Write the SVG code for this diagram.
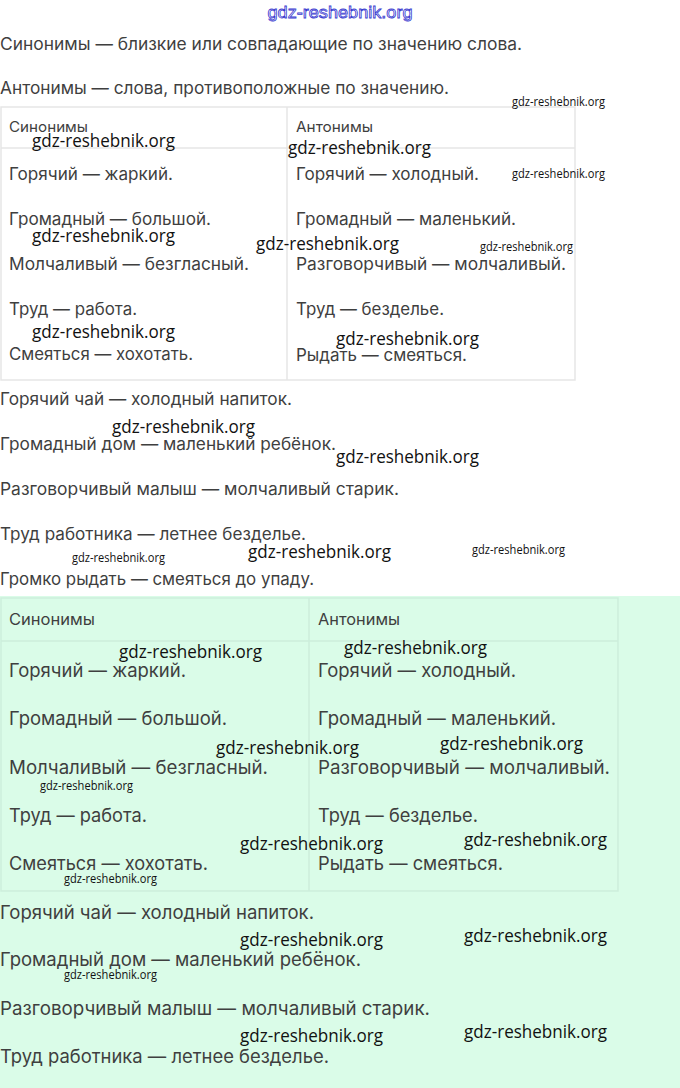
<svg xmlns="http://www.w3.org/2000/svg" width="680" height="1088" viewBox="0 0 680 1088">
<style>
.t{font-family:Inter,"Liberation Sans",Arial,sans-serif;font-size:17px;fill:#3f3f3f}
.g{font-family:Inter,"Liberation Sans",Arial,sans-serif;font-size:18.5px;fill:#3f3f3f}
.h{font-family:Inter,"Liberation Sans",Arial,sans-serif;font-size:14.5px;fill:#3f3f3f}
.hg{font-family:Inter,"Liberation Sans",Arial,sans-serif;font-size:15.5px;fill:#3f3f3f}
.wm{font-family:"Open Sans","Liberation Sans",Arial,sans-serif;font-size:19px;fill:#111}
.ws{font-family:"Open Sans","Liberation Sans",Arial,sans-serif;font-size:12.5px;fill:#111}
.tb{fill:#ffffff;stroke:#e6e6e6;stroke-width:1.5}
.tl{stroke:#e6e6e6;stroke-width:1.5}
.gb{fill:#dafce8;stroke:#cdeedb;stroke-width:1.5}
.gl{stroke:#cdeedb;stroke-width:1.5}
</style>
<rect x="0" y="0" width="680" height="1088" fill="#ffffff"/>
<rect x="0" y="596" width="680" height="492" fill="#dafce8"/>

<g id="header">
<text x="340" y="18" text-anchor="middle" font-family="'Liberation Sans',Arial,sans-serif" font-size="17" fill="#ffffff" stroke="#3a3ad0" stroke-width="0.8" textLength="145" lengthAdjust="spacingAndGlyphs">gdz-reshebnik.org</text>
<text class="t" x="0" y="50" textLength="522" lengthAdjust="spacingAndGlyphs">Синонимы — близкие или совпадающие по значению слова.</text>
<text class="t" x="0" y="94" textLength="449" lengthAdjust="spacingAndGlyphs">Антонимы — слова, противоположные по значению.</text>
</g>

<g id="table1">
<rect class="tb" x="1" y="107" width="574" height="273"/>
<line class="tl" x1="1" y1="148" x2="575" y2="148"/>
<line class="tl" x1="287" y1="107" x2="287" y2="380"/>
<text class="h" x="9" y="132" textLength="79" lengthAdjust="spacingAndGlyphs">Синонимы</text>
<text class="h" x="296" y="132" textLength="77" lengthAdjust="spacingAndGlyphs">Антонимы</text>
<text class="t" x="9" y="180" textLength="164" lengthAdjust="spacingAndGlyphs">Горячий — жаркий.</text>
<text class="t" x="296" y="180" textLength="183" lengthAdjust="spacingAndGlyphs">Горячий — холодный.</text>
<text class="t" x="9" y="225" textLength="202" lengthAdjust="spacingAndGlyphs">Громадный — большой.</text>
<text class="t" x="296" y="225" textLength="220" lengthAdjust="spacingAndGlyphs">Громадный — маленький.</text>
<text class="t" x="9" y="270" textLength="240" lengthAdjust="spacingAndGlyphs">Молчаливый — безгласный.</text>
<text class="t" x="296" y="270" textLength="270" lengthAdjust="spacingAndGlyphs">Разговорчивый — молчаливый.</text>
<text class="t" x="9" y="315" textLength="128" lengthAdjust="spacingAndGlyphs">Труд — работа.</text>
<text class="t" x="296" y="315" textLength="148" lengthAdjust="spacingAndGlyphs">Труд — безделье.</text>
<text class="t" x="9" y="360" textLength="184" lengthAdjust="spacingAndGlyphs">Смеяться — хохотать.</text>
<text class="t" x="296" y="361" textLength="171" lengthAdjust="spacingAndGlyphs">Рыдать — смеяться.</text>
</g>

<g id="examples1">
<text class="t" x="0" y="405" textLength="292" lengthAdjust="spacingAndGlyphs">Горячий чай — холодный напиток.</text>
<text class="t" x="0" y="450" textLength="336" lengthAdjust="spacingAndGlyphs">Громадный дом — маленький ребёнок.</text>
<text class="t" x="0" y="495" textLength="399" lengthAdjust="spacingAndGlyphs">Разговорчивый малыш — молчаливый старик.</text>
<text class="t" x="0" y="540" textLength="306" lengthAdjust="spacingAndGlyphs">Труд работника — летнее безделье.</text>
<text class="t" x="0" y="585" textLength="314" lengthAdjust="spacingAndGlyphs">Громко рыдать — смеяться до упаду.</text>
</g>

<g id="table2">
<rect class="gb" x="1" y="598" width="617" height="293"/>
<line class="gl" x1="1" y1="641" x2="618" y2="641"/>
<line class="gl" x1="309" y1="598" x2="309" y2="891"/>
<text class="hg" x="9" y="625" textLength="86" lengthAdjust="spacingAndGlyphs">Синонимы</text>
<text class="hg" x="318" y="625" textLength="82" lengthAdjust="spacingAndGlyphs">Антонимы</text>
<text class="g" x="9" y="677" textLength="177" lengthAdjust="spacingAndGlyphs">Горячий — жаркий.</text>
<text class="g" x="318" y="677" textLength="198" lengthAdjust="spacingAndGlyphs">Горячий — холодный.</text>
<text class="g" x="9" y="725" textLength="218" lengthAdjust="spacingAndGlyphs">Громадный — большой.</text>
<text class="g" x="318" y="725" textLength="238" lengthAdjust="spacingAndGlyphs">Громадный — маленький.</text>
<text class="g" x="9" y="774" textLength="259" lengthAdjust="spacingAndGlyphs">Молчаливый — безгласный.</text>
<text class="g" x="318" y="774" textLength="292" lengthAdjust="spacingAndGlyphs">Разговорчивый — молчаливый.</text>
<text class="g" x="9" y="822" textLength="138" lengthAdjust="spacingAndGlyphs">Труд — работа.</text>
<text class="g" x="318" y="822" textLength="160" lengthAdjust="spacingAndGlyphs">Труд — безделье.</text>
<text class="g" x="9" y="870" textLength="199" lengthAdjust="spacingAndGlyphs">Смеяться — хохотать.</text>
<text class="g" x="318" y="870" textLength="185" lengthAdjust="spacingAndGlyphs">Рыдать — смеяться.</text>
</g>

<g id="examples2">
<text class="g" x="0" y="919" textLength="314" lengthAdjust="spacingAndGlyphs">Горячий чай — холодный напиток.</text>
<text class="g" x="0" y="966" textLength="361" lengthAdjust="spacingAndGlyphs">Громадный дом — маленький ребёнок.</text>
<text class="g" x="0" y="1015" textLength="430" lengthAdjust="spacingAndGlyphs">Разговорчивый малыш — молчаливый старик.</text>
<text class="g" x="0" y="1063" textLength="329" lengthAdjust="spacingAndGlyphs">Труд работника — летнее безделье.</text>
</g>

<g id="watermarks">
<text class="ws" x="512" y="106" textLength="93" lengthAdjust="spacingAndGlyphs">gdz-reshebnik.org</text>
<text class="wm" x="32" y="147" textLength="143" lengthAdjust="spacingAndGlyphs">gdz-reshebnik.org</text>
<text class="wm" x="288" y="154" textLength="143" lengthAdjust="spacingAndGlyphs">gdz-reshebnik.org</text>
<text class="ws" x="512" y="178" textLength="93" lengthAdjust="spacingAndGlyphs">gdz-reshebnik.org</text>
<text class="wm" x="32" y="242" textLength="143" lengthAdjust="spacingAndGlyphs">gdz-reshebnik.org</text>
<text class="wm" x="256" y="250" textLength="143" lengthAdjust="spacingAndGlyphs">gdz-reshebnik.org</text>
<text class="ws" x="480" y="251" textLength="93" lengthAdjust="spacingAndGlyphs">gdz-reshebnik.org</text>
<text class="wm" x="32" y="338" textLength="143" lengthAdjust="spacingAndGlyphs">gdz-reshebnik.org</text>
<text class="wm" x="336" y="345" textLength="143" lengthAdjust="spacingAndGlyphs">gdz-reshebnik.org</text>
<text class="wm" x="112" y="433" textLength="143" lengthAdjust="spacingAndGlyphs">gdz-reshebnik.org</text>
<text class="wm" x="336" y="463" textLength="143" lengthAdjust="spacingAndGlyphs">gdz-reshebnik.org</text>
<text class="ws" x="72" y="562" textLength="93" lengthAdjust="spacingAndGlyphs">gdz-reshebnik.org</text>
<text class="wm" x="248" y="558" textLength="143" lengthAdjust="spacingAndGlyphs">gdz-reshebnik.org</text>
<text class="ws" x="472" y="554" textLength="93" lengthAdjust="spacingAndGlyphs">gdz-reshebnik.org</text>
<text class="wm" x="119" y="658" textLength="143" lengthAdjust="spacingAndGlyphs">gdz-reshebnik.org</text>
<text class="wm" x="344" y="654" textLength="143" lengthAdjust="spacingAndGlyphs">gdz-reshebnik.org</text>
<text class="wm" x="216" y="754" textLength="143" lengthAdjust="spacingAndGlyphs">gdz-reshebnik.org</text>
<text class="wm" x="440" y="750" textLength="143" lengthAdjust="spacingAndGlyphs">gdz-reshebnik.org</text>
<text class="ws" x="40" y="790" textLength="93" lengthAdjust="spacingAndGlyphs">gdz-reshebnik.org</text>
<text class="wm" x="240" y="850" textLength="143" lengthAdjust="spacingAndGlyphs">gdz-reshebnik.org</text>
<text class="wm" x="464" y="846" textLength="143" lengthAdjust="spacingAndGlyphs">gdz-reshebnik.org</text>
<text class="ws" x="64" y="883" textLength="93" lengthAdjust="spacingAndGlyphs">gdz-reshebnik.org</text>
<text class="wm" x="240" y="946" textLength="143" lengthAdjust="spacingAndGlyphs">gdz-reshebnik.org</text>
<text class="wm" x="464" y="942" textLength="143" lengthAdjust="spacingAndGlyphs">gdz-reshebnik.org</text>
<text class="ws" x="64" y="979" textLength="93" lengthAdjust="spacingAndGlyphs">gdz-reshebnik.org</text>
<text class="wm" x="240" y="1042" textLength="143" lengthAdjust="spacingAndGlyphs">gdz-reshebnik.org</text>
<text class="wm" x="464" y="1038" textLength="143" lengthAdjust="spacingAndGlyphs">gdz-reshebnik.org</text>
</g>
</svg>
